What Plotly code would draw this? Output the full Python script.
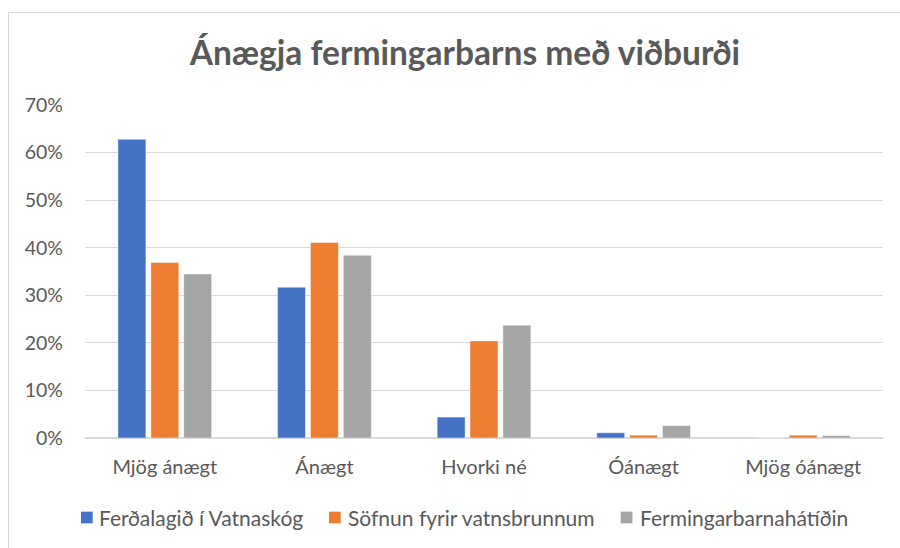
import plotly.graph_objects as go

categories = ["Mjög ánægt", "Ánægt", "Hvorki né", "Óánægt", "Mjög óánægt"]
series_names = ["Ferðalagið í Vatnaskóg", "Söfnun fyrir vatnsbrunnum", "Fermingarbarnahátíðin"]
vatnaskogur = [0.628, 0.317, 0.044, 0.011, 0.0]
vatnsbrunnar = [0.369, 0.411, 0.204, 0.006, 0.006]
hatid = [0.345, 0.384, 0.237, 0.026, 0.005]
colors = ["#4472C4", "#ED7D31", "#A5A5A5"]
title_text = "Ánægja fermingarbarns með viðburði"

TXT = "#595959"
FONT = "Lato, Noto Sans, sans-serif"

fig = go.Figure()
for name, vals, col in zip(series_names, [vatnaskogur, vatnsbrunnar, hatid], colors):
    fig.add_trace(go.Bar(
        x=categories, y=vals, name=name, showlegend=False,
        marker=dict(color=col, line=dict(color="rgba(255,255,255,0.45)", width=1)),
    ))

W, H = 900, 548
L, R, T, B = 85, 17, 105, 110
pw, ph = W - L - R, H - T - B

def px_x(p):
    return (p - L) / pw

def px_y(p):
    return (H - B - p) / ph

# manual legend layout (pixel positions of the legend squares / labels)
legend_square_left = [81, 329, 620.7]
legend_text_left = [98.3, 346.7, 638.7]
legend_cy = 517.5
sq = 11.7

shapes = [
    dict(type="line", xref="paper", yref="paper",
         x0=px_x(8.5), x1=px_x(8.5), y0=px_y(12.5), y1=px_y(700),
         line=dict(color="#D9D9D9", width=1), layer="below"),
    dict(type="line", xref="paper", yref="paper",
         x0=px_x(8.5), x1=px_x(1000), y0=px_y(12.5), y1=px_y(12.5),
         line=dict(color="#D9D9D9", width=1), layer="below"),
]
annotations = []
for name, col, sx, tx in zip(series_names, colors, legend_square_left, legend_text_left):
    shapes.append(dict(type="rect", xref="paper", yref="paper",
                       x0=px_x(sx), x1=px_x(sx + sq),
                       y0=px_y(legend_cy + sq / 2), y1=px_y(legend_cy - sq / 2),
                       fillcolor=col, line=dict(width=0)))
    annotations.append(dict(text=name, xref="paper", yref="paper",
                            x=px_x(tx - 1), y=px_y(legend_cy), xanchor="left", yanchor="middle",
                            showarrow=False, font=dict(size=21, color=TXT, family=FONT)))

fig.update_layout(
    width=W, height=H,
    margin=dict(l=L, r=R, t=T, b=B),
    paper_bgcolor="white", plot_bgcolor="white",
    barmode="group", bargap=0.382, bargroupgap=0.15,
    font=dict(family=FONT, color=TXT, size=20),
    title=dict(text="<b>" + title_text + "</b>", x=465 / W, xref="container",
               y=1 - 53 / H, yref="container", xanchor="center", yanchor="middle",
               font=dict(family=FONT, size=33.5, color=TXT)),
    showlegend=False,
    xaxis=dict(showgrid=False, showline=False, ticks="", tickfont=dict(size=20, color=TXT),
               ticklabelstandoff=15),
    yaxis=dict(range=[0, 0.7], dtick=0.1, tickformat=".0%", showgrid=True,
               gridcolor="#D9D9D9", gridwidth=1, zeroline=True, zerolinecolor="#D9D9D9",
               zerolinewidth=1.5, showline=False, ticks="", tickfont=dict(size=19.5, color=TXT),
               ticklabelstandoff=21),
    shapes=shapes,
    annotations=annotations,
)

fig.write_html("out.html", config={"displayModeBar": False},
               post_script="document.body.style.margin='0';document.body.style.overflow='hidden';")
